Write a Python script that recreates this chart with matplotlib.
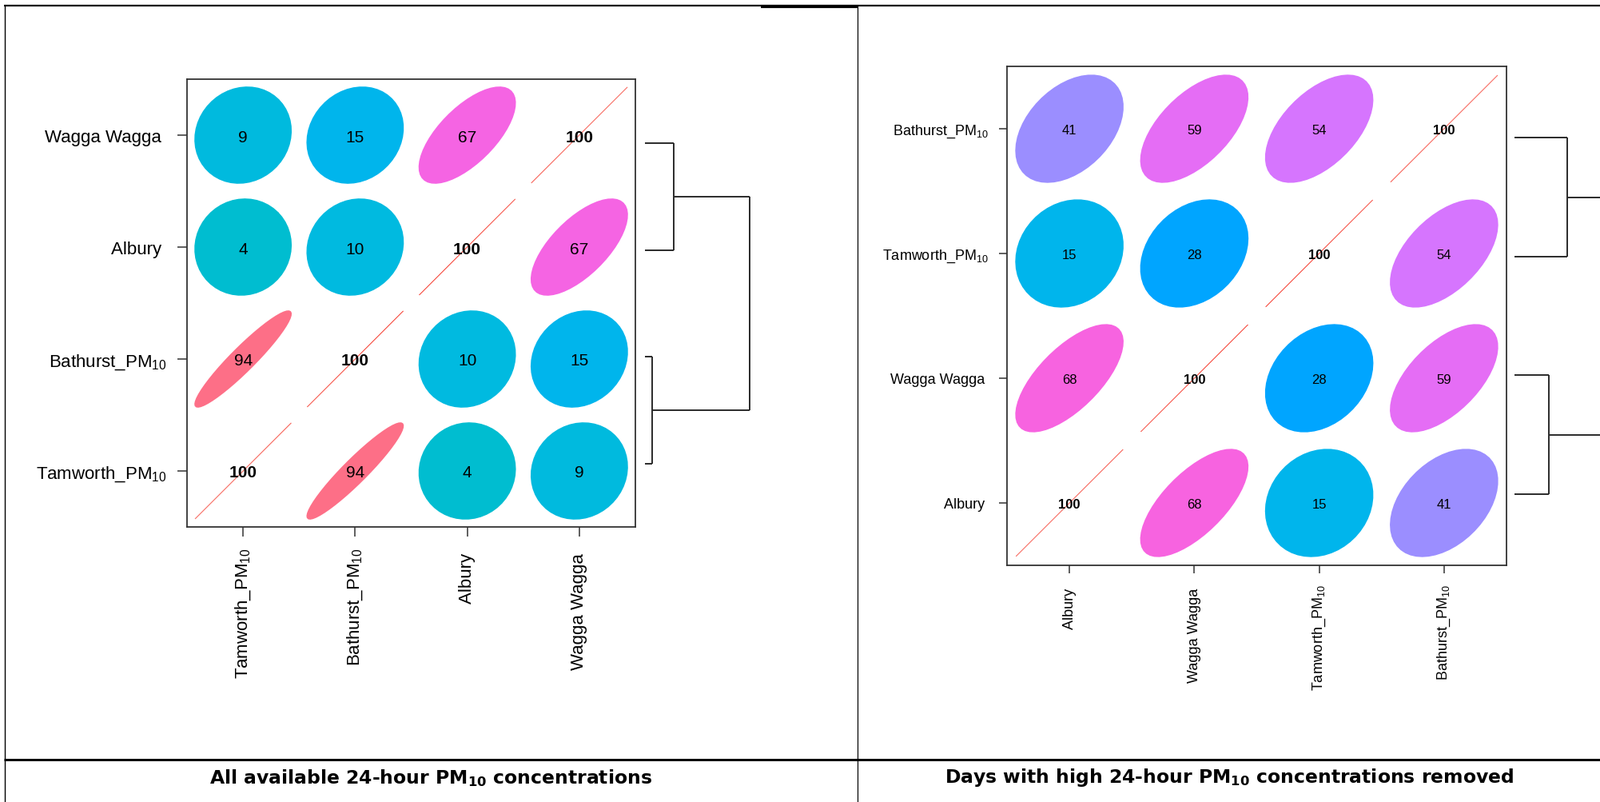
import numpy as np
import matplotlib
matplotlib.use("Agg")
import matplotlib.pyplot as plt
from matplotlib.patches import Polygon
from matplotlib.lines import Line2D

plt.rcParams['font.family'] = ['Liberation Sans', 'DejaVu Sans']
plt.rcParams['mathtext.fontset'] = 'custom'
plt.rcParams['mathtext.rm'] = 'Liberation Sans'
plt.rcParams['mathtext.it'] = 'Liberation Sans:italic'
plt.rcParams['mathtext.bf'] = 'Liberation Sans:bold'
plt.rcParams['mathtext.default'] = 'regular'

# ---------------- data ----------------
left_vars = ["Tamworth_PM10", "Bathurst_PM10", "Albury", "Wagga Wagga"]
left_corr = np.array([[100, 94, 4, 9],
                      [94, 100, 10, 15],
                      [4, 10, 100, 67],
                      [9, 15, 67, 100]]) / 100.0

right_vars = ["Albury", "Wagga Wagga", "Tamworth_PM10", "Bathurst_PM10"]
right_corr = np.array([[100, 68, 15, 41],
                       [68, 100, 28, 59],
                       [15, 28, 100, 54],
                       [41, 59, 54, 100]]) / 100.0

captions = ["All available 24-hour PM$_{\\mathbf{10}}$ concentrations",
            "Days with high 24-hour PM$_{\\mathbf{10}}$ concentrations removed"]

W, H = 2002, 1004
fig = plt.figure(figsize=(W / 100, H / 100), dpi=100)


def px_rect(x0, y0, x1, y1):
    return [x0 / W, 1 - y1 / H, (x1 - x0) / W, (y1 - y0) / H]


def hcl_hex(h, c=100.0, l=65.0):
    Xn, Yn, Zn = 95.047, 100.0, 108.883
    hr = np.deg2rad(h)
    U, V = c * np.cos(hr), c * np.sin(hr)
    Y = Yn * ((l + 16) / 116) ** 3
    den = Xn + 15 * Yn + 3 * Zn
    un, vn = 4 * Xn / den, 9 * Yn / den
    u = U / (13 * l) + un
    v = V / (13 * l) + vn
    X = 9.0 * Y * u / (4 * v)
    Z = -X / 3 - 5 * Y + 3 * Y / v
    r = (3.240479 * X - 1.537150 * Y - 0.498535 * Z) / 100
    g = (-0.969256 * X + 1.875992 * Y + 0.041556 * Z) / 100
    b = (0.055648 * X - 0.204043 * Y + 1.057311 * Z) / 100

    def gam(t):
        t = 1.055 * t ** (1 / 2.4) - 0.055 if t > 0.0031308 else 12.92 * t
        return min(max(t, 0), 1)
    return (gam(r), gam(g), gam(b))


def corr_color(r):
    return hcl_hex((15 + (r + 1) / 2 * 360) % 360)


def label_text(name):
    if name.endswith("_PM10"):
        return name[:-2] + "$_{10}$"
    return name + " "


def complete_linkage(R):
    n = R.shape[0]
    D = np.sqrt(((R[:, None, :] - R[None, :, :]) ** 2).sum(-1))
    clusters = {i: ([i], float(i + 1), 0.0) for i in range(n)}
    merges = []
    nid = n
    while len(clusters) > 1:
        keys = list(clusters)
        best = None
        for a in range(len(keys)):
            for b in range(a + 1, len(keys)):
                ma, mb = clusters[keys[a]][0], clusters[keys[b]][0]
                d = max(D[i, j] for i in ma for j in mb)
                if best is None or d < best[0]:
                    best = (d, keys[a], keys[b])
        d, ka, kb = best
        ca, cb = clusters.pop(ka), clusters.pop(kb)
        merges.append((ca, cb, d))
        clusters[nid] = (ca[0] + cb[0], (ca[1] + cb[1]) / 2, d)
        nid += 1
    return merges


def draw_panel(box, dendro_box, px_per_unit, vars_, corr, fs_lab, fs_num,
               tick_len, tick_pad):
    ax = fig.add_axes(px_rect(*box))
    n = len(vars_)
    ax.set_xlim(0.5, n + 0.5)
    ax.set_ylim(0.5, n + 0.5)
    t = np.sqrt(-2 * np.log(0.1))
    a = np.linspace(0, 2 * np.pi, 50)
    for i in range(n):        # x index
        for j in range(n):    # y index
            r = corr[i, j]
            d = np.arccos(min(r, 1.0))
            xs = (i + 1) + t * 0.2 * np.cos(a + d / 2)
            ys = (j + 1) + t * 0.2 * np.cos(a - d / 2)
            col = corr_color(r)
            diag = r > 0.999
            ax.add_patch(Polygon(np.c_[xs, ys], closed=True, facecolor=col,
                                 edgecolor=col, lw=0.6 if diag else 1.1))
            bold = abs(r) > 0.99
            ax.text(i + 1, j + 1, str(int(round(r * 100))), ha='center',
                    va='center_baseline', fontsize=fs_num,
                    fontweight='bold' if bold else 'normal', color='black')
    ax.set_xticks(range(1, n + 1))
    ax.set_yticks(range(1, n + 1))
    ax.set_xticklabels([label_text(v) for v in vars_], rotation=90,
                       fontsize=fs_lab)
    ax.set_yticklabels([label_text(v) for v in vars_], fontsize=fs_lab)
    ax.tick_params(length=tick_len, width=1.1, color='#333333', pad=tick_pad,
                   labelcolor='black')
    for s in ax.spines.values():
        s.set_color('#333333')
        s.set_linewidth(1.3)

    # dendrogram
    dx0, dy0, dx1, dy1 = dendro_box
    dax = fig.add_axes(px_rect(*dendro_box))
    dax.set_xlim(0, (dx1 - dx0) / px_per_unit)
    dax.set_ylim(0.5, n + 0.5)
    dax.axis('off')
    for ca, cb, h in complete_linkage(corr):
        for c in (ca, cb):
            dax.plot([c[2], h], [c[1], c[1]], color='#2a2a2a', lw=1.4,
                     solid_capstyle='butt')
        dax.plot([h, h], [ca[1], cb[1]], color='#2a2a2a', lw=1.4,
                 solid_capstyle='butt')
    return ax


# left panel
draw_panel((234, 100, 795, 660), (807, 113, 1007, 648), 77.0,
           left_vars, left_corr, 16, 15, 8.5, 10)
# right panel
draw_panel((1260, 84, 1885, 708), (1895, 99, 2095, 693), 86.0,
           right_vars, right_corr, 13, 12, 7.5, 9)


def fline(x0, y0, x1, y1, lw_px, color='black'):
    fig.add_artist(Line2D([x0 / W, x1 / W], [1 - y0 / H, 1 - y1 / H],
                          transform=fig.transFigure, color=color,
                          lw=lw_px * 0.72, solid_capstyle='butt'))


# table borders
fline(5, 8, W, 8, 2.2)
fline(952, 10, 1073, 10, 2.2)
fline(6, 8, 6, H, 1.4)
fline(1073, 8, 1073, H, 1.2)
fline(5, 951, W, 951, 3.0)

for cx, txt in zip((539, 1538), captions):
    fig.text(cx / W, 1 - 973 / H, txt, ha='center', va='center',
             fontsize=16.9, fontweight='bold', family='DejaVu Sans',
             math_fontfamily='dejavusans')

fig.savefig("out.png", dpi=100)
